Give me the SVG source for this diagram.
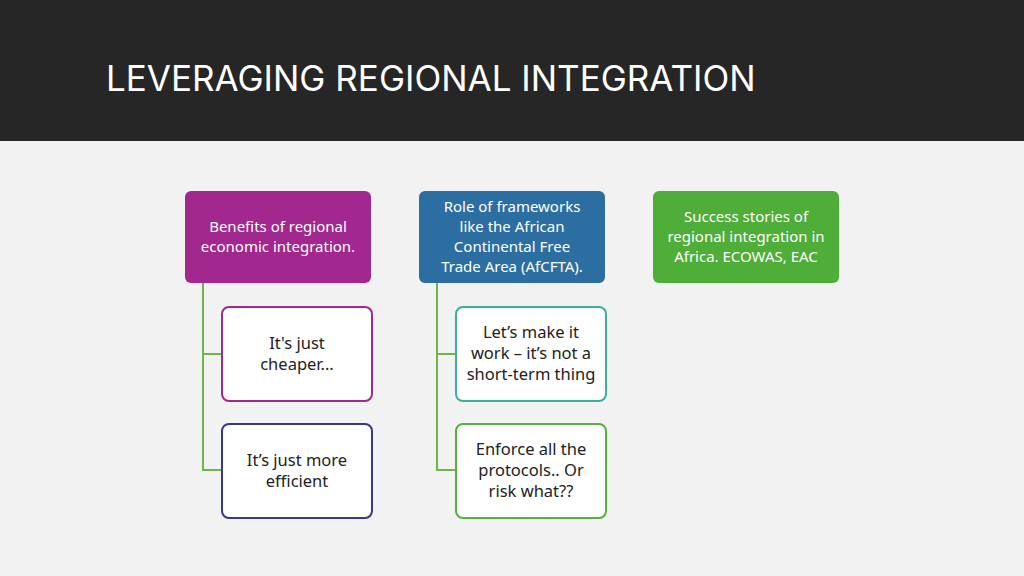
<svg xmlns="http://www.w3.org/2000/svg" width="1024" height="576" viewBox="0 0 1024 576">
<style>
text{font-family:"Noto Sans","Open Sans",sans-serif;text-anchor:middle}
.h{fill:#fff;font-size:15px}
.c{fill:#222;font-size:16.5px}
.ch{fill:#fff;stroke-width:2}
.cn{fill:none;stroke:#6BB847;stroke-width:2}
</style>
<rect width="1024" height="576" fill="#F2F2F2"/>
<rect width="1024" height="141" fill="#262626"/>
<text x="106" y="91" style="text-anchor:start;font-family:Inter,'Liberation Sans',sans-serif;font-size:35px;fill:#fff">LEVERAGING REGIONAL INTEGRATION</text>
<g id="connectors">
<path class="cn" d="M203 283V470H222M203 354H222"/>
<path class="cn" d="M437 283V470H456M437 354H456"/>
</g>
<g id="n1"><rect x="185" y="191" width="186" height="92" rx="6" fill="#A2288F"/>
<text class="h" x="278" y="232">Benefits of regional</text><text class="h" x="278" y="252">economic integration.</text></g>
<g id="n2"><rect x="419" y="191" width="186" height="92" rx="6" fill="#2C6EA1"/>
<text class="h" x="512" y="212">Role of frameworks</text><text class="h" x="512" y="232">like the African</text><text class="h" x="512" y="252">Continental Free</text><text class="h" x="512" y="272">Trade Area (AfCFTA).</text></g>
<g id="n3"><rect x="653" y="191" width="186" height="92" rx="6" fill="#4EAE38"/>
<text class="h" x="746" y="222">Success stories of</text><text class="h" x="746" y="242">regional integration in</text><text class="h" x="746" y="262">Africa. ECOWAS, EAC</text></g>
<g id="n4"><rect class="ch" x="222" y="307" width="150" height="94" rx="7" stroke="#A2288F"/>
<text class="c" x="297" y="349">It's just</text><text class="c" x="297" y="370">cheaper...</text></g>
<g id="n5"><rect class="ch" x="222" y="424" width="150" height="94" rx="7" stroke="#3B3596"/>
<text class="c" x="297" y="466">It’s just more</text><text class="c" x="297" y="487">efficient</text></g>
<g id="n6"><rect class="ch" x="456" y="307" width="150" height="94" rx="7" stroke="#3BAF9C"/>
<text class="c" x="531" y="338">Let’s make it</text><text class="c" x="531" y="359">work – it’s not a</text><text class="c" x="531" y="380">short-term thing</text></g>
<g id="n7"><rect class="ch" x="456" y="424" width="150" height="94" rx="7" stroke="#55B040"/>
<text class="c" x="531" y="455">Enforce all the</text><text class="c" x="531" y="476">protocols.. Or</text><text class="c" x="531" y="497">risk what??</text></g>
</svg>
